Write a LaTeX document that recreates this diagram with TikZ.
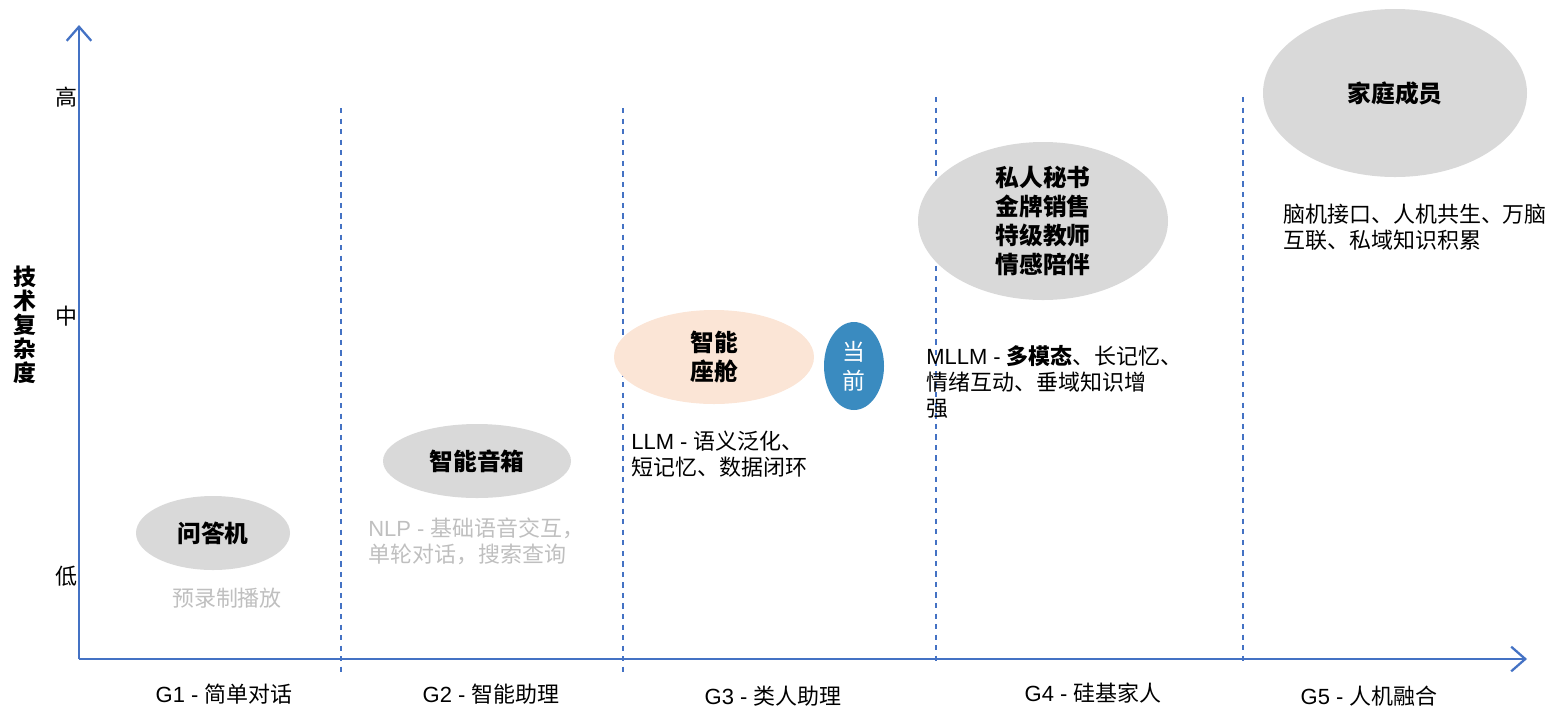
\documentclass[tikz,border=0pt]{standalone}
\usepackage{fontspec}
\setmainfont{Noto Sans CJK SC}
\newfontfamily\lat{Liberation Sans}
\usetikzlibrary{arrows.meta,shapes.geometric}

\definecolor{axisblue}{HTML}{4472C4}
\definecolor{bubblegray}{HTML}{D9D9D9}
\definecolor{peach}{HTML}{FBE5D6}
\definecolor{nowblue}{HTML}{3A8BC0}
\definecolor{fadedtext}{HTML}{BFBFBF}

\begin{document}
\begin{tikzpicture}[x=0.02cm, y=-0.02cm,
    axis/.style = {draw=axisblue, line width=1.6pt, -{Straight Barb[length=8pt, width=14pt, line width=1.3pt]}},
    divider/.style = {draw=axisblue, dashed, line width=0.6pt},
    bubble/.style = {ellipse, fill=bubblegray, inner sep=0pt, align=center, font=\fontsize{13.5}{16.4}\selectfont\bfseries},
    note/.style = {anchor=west, inner sep=0pt, align=left, font=\fontsize{12.5}{14.7}\selectfont},
    level/.style = {inner sep=0pt, font=\fontsize{12.5}{14}\selectfont},
    stage/.style = {inner sep=0pt, font=\fontsize{12.5}{14}\selectfont}]
        \useasboundingbox (0,0) rectangle (1552,708);

        % axes
        \coordinate (O) at (79,659);
        \coordinate (ytop) at (79,25);
        \coordinate (xend) at (1527,659);
        \draw[axis] (O) -- (ytop);
        \draw[axis] (O) -- (xend);

        % stage dividers
        \coordinate (d1a) at (341,108);  \coordinate (d1b) at (341,673);
        \coordinate (d2a) at (623,108);  \coordinate (d2b) at (623,673);
        \coordinate (d3a) at (936,97);   \coordinate (d3b) at (936,662);
        \coordinate (d4a) at (1243,97);  \coordinate (d4b) at (1243,662);
        \draw[divider] (d1a) -- (d1b);
        \draw[divider] (d2a) -- (d2b);
        \draw[divider] (d3a) -- (d3b);
        \draw[divider] (d4a) -- (d4b);

        % y axis labels
        \node[level] (high) at (66,97) {高};
        \node[level] (mid) at (66,316) {中};
        \node[level] (low) at (66,576) {低};
        \node[inner sep=0pt, align=center, font=\fontsize{13}{13.6}\selectfont\bfseries] (ylabel) at (25,325) {技\\术\\复\\杂\\度};

        % stage labels
        \node[stage] (g1) at (224,694) {{\lat G1 - }简单对话};
        \node[stage] (g2) at (491,694) {{\lat G2 - }智能助理};
        \node[stage] (g3) at (773,696) {{\lat G3 - }类人助理};
        \node[stage] (g4) at (1093,693) {{\lat G4 - }硅基家人};
        \node[stage] (g5) at (1369,696) {{\lat G5 - }人机融合};

        % products
        \node[bubble, minimum width=154*0.02cm, minimum height=74*0.02cm] (qa) at (213,533) {问答机};
        \node[bubble, minimum width=188*0.02cm, minimum height=74*0.02cm] (speaker) at (477,461) {智能音箱};
        \node[bubble, fill=peach, minimum width=200*0.02cm, minimum height=94*0.02cm] (cockpit) at (714,357) {智能\\座舱};
        \node[bubble, fill=nowblue, text=white, font=\fontsize{13}{16.4}\selectfont, minimum width=60*0.02cm, minimum height=88*0.02cm] (now) at (854,366) {当\\前};
        \node[bubble, minimum width=250*0.02cm, minimum height=158*0.02cm] (secretary) at (1043,221) {私人秘书\\金牌销售\\特级教师\\情感陪伴};
        \node[bubble, minimum width=264*0.02cm, minimum height=168*0.02cm] (family) at (1395,93) {家庭成员};

        % technology notes
        \node[note, anchor=center, text=fadedtext] (tech1) at (227,598) {预录制播放};
        \node[note, text=fadedtext] (tech2) at (368,541) {{\lat NLP - }基础语音交互，\\单轮对话，搜索查询};
        \node[note] (tech3) at (631,454) {{\lat LLM - }语义泛化、\\短记忆、数据闭环};
        \node[note] (tech4) at (926,382) {{\lat MLLM - }\textbf{多模态}、长记忆、\\情绪互动、垂域知识增\\强};
        \node[note] (tech5) at (1283,227) {脑机接口、人机共生、万脑\\互联、私域知识积累};
    \end{tikzpicture}
\end{document}
